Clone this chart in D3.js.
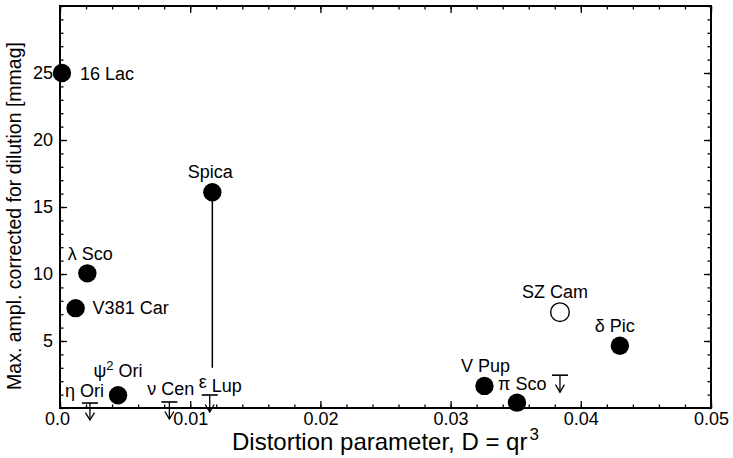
<!DOCTYPE html>
<html>
<head>
<meta charset="utf-8">
<script src="https://cdn.jsdelivr.net/npm/d3@7"></script>
<style>
body { margin: 0; background: #fff; }
text { font-family: "Liberation Sans", Arial, Helvetica, sans-serif; fill: #000; }
</style>
</head>
<body>
<svg width="733" height="458"></svg>
<script>
// measured stars: name, D, amplitude, filled?
var starNames = ["16 Lac", "Spica", "\u03bb Sco", "V381 Car", "\u03c8\u00b2 Ori", "V Pup", "\u03c0 Sco", "SZ Cam", "\u03b4 Pic"];
var starD     = [0.00015, 0.0117, 0.0021, 0.0012, 0.00446, 0.0326, 0.0351, 0.0384, 0.0430];
var starAmp   = [25.0, 16.1, 10.05, 7.45, 0.95, 1.65, 0.4, 7.15, 4.65];
var starFilled = [true, true, true, true, true, true, true, false, true];

// upper limits
var limitD   = [0.0023, 0.0084, 0.0115, 0.0384];
var limitAmp = [0.37, 0.45, 0.97, 2.45];

// Spica amplitude range
var spicaRange = [3.0, 16.1];

// labels for the upper-limit stars
var limitNames = ["\u03b7 Ori", "\u03bd Cen", "\u03b5 Lup"];

var xTicks = [0, 0.01, 0.02, 0.03, 0.04, 0.05];
var xTickLabels = ["0.0", "0.01", "0.02", "0.03", "0.04", "0.05"];
var yTicks = [5, 10, 15, 20, 25];

var margins = {top: 6, right: 22, left: 60, bottom: 50};
var width = 733 - margins.left - margins.right;
var height = 458 - margins.top - margins.bottom;

var xScale = d3.scaleLinear().domain([0, 0.05]).range([0, width]);
var yScale = d3.scaleLinear().domain([0, 30]).range([height, 0]);

var svg = d3.select("svg");
var g = svg.append("g")
    .attr("id", "graph")
    .attr("transform", "translate(" + margins.left + "," + margins.top + ")");

// minor ticks, all four sides, pointing in
var xMinor = d3.range(0, 0.0501, 0.002);
var yMinor = d3.range(0, 30.01, 1);

g.append("g").call(d3.axisBottom(xScale).tickValues(xMinor).tickSize(-3.5).tickFormat(""))
    .attr("transform", "translate(0," + height + ")");
g.append("g").call(d3.axisTop(xScale).tickValues(xMinor).tickSize(-3.5).tickFormat(""));
g.append("g").call(d3.axisLeft(yScale).tickValues(yMinor).tickSize(-3.5).tickFormat(""));
g.append("g").call(d3.axisRight(yScale).tickValues(yMinor).tickSize(-3.5).tickFormat(""))
    .attr("transform", "translate(" + width + ",0)");

// major ticks
var xAxis = g.append("g")
    .attr("transform", "translate(0," + height + ")")
    .call(d3.axisBottom(xScale).tickValues(xTicks).tickSize(-7).tickPadding(4)
        .tickFormat(function(d, i) { return xTickLabels[i]; }));
g.append("g").call(d3.axisTop(xScale).tickValues(xTicks).tickSize(-7).tickFormat(""));
var yAxis = g.append("g")
    .call(d3.axisLeft(yScale).tickValues(yTicks).tickSize(-7).tickPadding(7));
g.append("g").attr("transform", "translate(" + width + ",0)")
    .call(d3.axisRight(yScale).tickValues(yTicks).tickSize(-7).tickFormat(""));

g.selectAll(".domain").remove();
g.selectAll(".tick line").attr("stroke", "#000").attr("stroke-width", 1.3);
g.selectAll(".tick text").style("font-size", "18px");
xAxis.select(".tick text").attr("dx", -3);

// frame
g.append("rect")
    .attr("width", width).attr("height", height)
    .attr("fill", "none").attr("stroke", "#000").attr("stroke-width", 2);

// axis titles
var xt = svg.append("text")
    .attr("x", 232)
    .attr("y", 450)
    .attr("text-anchor", "start")
    .style("font-size", "24px");
xt.append("tspan").text("Distortion parameter, D = qr");
xt.append("tspan").text("3").attr("dy", -10).attr("dx", 2).style("font-size", "17px");

svg.append("text")
    .attr("transform", "translate(21,216) rotate(-90)")
    .attr("text-anchor", "middle")
    .style("font-size", "19.5px")
    .text("Max. ampl. corrected for dilution [mmag]");

// Spica range line
g.append("line")
    .attr("x1", xScale(starD[1])).attr("x2", xScale(starD[1]))
    .attr("y1", yScale(spicaRange[0])).attr("y2", yScale(spicaRange[1]))
    .attr("stroke", "#000").attr("stroke-width", 1.5);

// upper limits
var lim = g.selectAll(".limit")
    .data(limitD)
    .enter()
    .append("g")
    .attr("class", "limit")
    .attr("transform", function(d, i) { return "translate(" + xScale(d) + "," + yScale(limitAmp[i]) + ")"; });
lim.append("line").attr("x1", -8).attr("x2", 8).attr("y1", 0).attr("y2", 0)
    .attr("stroke", "#000").attr("stroke-width", 1.6);
lim.append("line").attr("x1", 0).attr("x2", 0).attr("y1", 0).attr("y2", 17)
    .attr("stroke", "#000").attr("stroke-width", 1.3);
lim.append("path").attr("d", "M-4.5,9.5 L0,17 L4.5,9.5")
    .attr("fill", "none").attr("stroke", "#000").attr("stroke-width", 1.3);

// stars
g.selectAll(".star")
    .data(starD)
    .enter()
    .append("circle")
    .attr("class", "star")
    .attr("cx", function(d) { return xScale(d); })
    .attr("cy", function(d, i) { return yScale(starAmp[i]); })
    .attr("r", function(d, i) { return starFilled[i] ? 9.2 : 9.3; })
    .attr("fill", function(d, i) { return starFilled[i] ? "#000" : "#fff"; })
    .attr("stroke", "#000")
    .attr("stroke-width", function(d, i) { return starFilled[i] ? 0 : 1.4; });

// star labels: offsets in px from each point
var labelDx = [18, -2, 3, 17, 0, 1, -19, -5, -5];
var labelDy = [7, -14, -13, 6, -18, -14, -13, -14, -14];
var labelAnchor = ["start", "middle", "middle", "start", "middle", "middle", "start", "middle", "middle"];

g.selectAll(".lab")
    .data(starNames)
    .enter()
    .append("text")
    .attr("class", "lab")
    .attr("x", function(d, i) { return xScale(starD[i]) + labelDx[i]; })
    .attr("y", function(d, i) { return yScale(starAmp[i]) + labelDy[i]; })
    .attr("text-anchor", function(d, i) { return labelAnchor[i]; })
    .style("font-size", "18px")
    .each(function(d) {
        var t = d3.select(this);
        if (d.indexOf("\u00b2") >= 0) {
            t.append("tspan").text("\u03c8");
            t.append("tspan").text("2").attr("dy", -7).style("font-size", "13px");
            t.append("tspan").text(" Ori").attr("dy", 7);
        } else {
            t.text(d);
        }
    });

var limLabDx = [-25, -22, -11];
var limLabDy = [-6, -7, -3];
g.selectAll(".limlab")
    .data(limitNames)
    .enter()
    .append("text")
    .attr("class", "limlab")
    .attr("x", function(d, i) { return xScale(limitD[i]) + limLabDx[i]; })
    .attr("y", function(d, i) { return yScale(limitAmp[i]) + limLabDy[i]; })
    .attr("text-anchor", "start")
    .style("font-size", "18px")
    .each(function(d, i) {
        var t = d3.select(this);
        if (i === 2) {
            // epsilon sits a little raised in the original
            t.append("tspan").text("\u03b5").attr("dy", -4);
            t.append("tspan").text(" Lup").attr("dy", 4);
        } else {
            t.text(d);
        }
    });
</script>
</body>
</html>
